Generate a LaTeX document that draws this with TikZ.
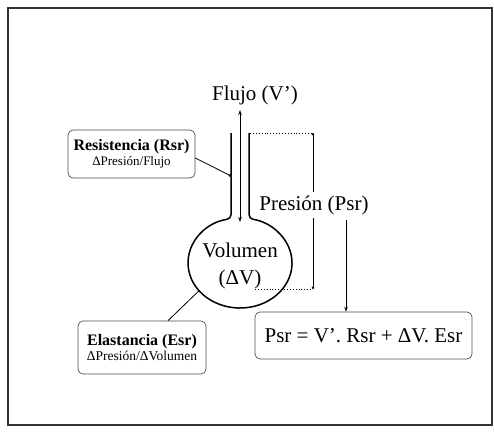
\documentclass[tikz,border=0pt]{standalone}
\usepackage{fontspec}
\setmainfont{Liberation Serif}
\usetikzlibrary{arrows.meta}
\tikzset{
  frame/.style={line width=1.1pt,black!80},
  wall/.style={line width=1.5pt,black},
  big/.style={font=\fontsize{21}{27}\selectfont,inner sep=1pt,align=center},
  labbox/.style={rectangle,rounded corners=5pt,draw=black!70,line width=0.7pt,align=center,inner sep=2pt},
  flow/.style={{Stealth[length=5pt,width=3.5pt]}-{Stealth[length=5pt,width=3.5pt]},line width=0.8pt},
  guide/.style={dotted,line width=0.9pt},
  % measure line with small round ends, and the leaders to the walls
  meas/.style={{Circle[length=2.6pt]}-{Circle[length=2.6pt]},line width=0.6pt},
  link/.style={line width=0.8pt,-{Circle[length=2.6pt]}},
  down/.style={-{Stealth[length=5pt,width=3.5pt]},line width=0.6pt},
}
\begin{document}
\begin{tikzpicture}[x=1pt,y=1pt]
  \useasboundingbox (0,0) rectangle (494,-431);
  \draw[frame] (8,-8) rectangle (492,-425);
  % ---- the tube and the bulb ----
  \draw[wall,rounded corners=4pt] (231,-133) -- (231,-218.7)
    arc[start angle=100,end angle=440,x radius=52,y radius=45] -- (249,-133);
  \node[big] (vol) at (240,-266) {Volumen\\(ΔV)};
  \node[big] (flujo) at (255,-95) {Flujo (V’)};
  \coordinate (ftop) at (240,-110);
  \coordinate (fbot) at (240,-222);
  \draw[flow] (ftop) -- (fbot);
  % ---- pressure between mouth and bulb ----
  \coordinate (ptop) at (313,-133);
  \coordinate (pbot) at (313,-289);
  \draw[guide] (250,-133) -- (ptop);
  \draw[guide] (255,-289) -- (pbot);
  \draw[meas] (ptop) -- (pbot);
  \node[big,fill=white,inner sep=3pt] (pres) at (314,-205) {Presión (Psr)};
  \node[labbox,font=\fontsize{21}{25}\selectfont,minimum width=217pt,minimum height=47pt]
    (form) at (363.5,-335.5) {Psr = V’. Rsr + ΔV. Esr};
  \coordinate (pout) at (346,-220);
  \draw[down] (pout) -- (pout |- form.north);
  % ---- the two labelled boxes ----
  \node[labbox,minimum width=127pt,minimum height=48pt] (res) at (131.5,-154)
    {{\fontsize{16}{18}\selectfont\bfseries Resistencia (Rsr)}\\[1pt]{\fontsize{13}{15}\selectfont ΔPresión/Flujo}};
  \node[labbox,minimum width=128pt,minimum height=53pt] (ela) at (142,-347.5)
    {{\fontsize{16}{18}\selectfont\bfseries Elastancia (Esr)}\\[2pt]{\fontsize{13.5}{15}\selectfont ΔPresión/ΔVolumen}};
  \coordinate (rwall) at (231,-176);
  \coordinate (ewall) at (199,-290.7);
  \draw[link] (res.east |- 0,-158) -- (rwall);
  \draw[line width=0.8pt] (ela.north -| 168,0) -- (ewall);
\end{tikzpicture}
\end{document}
